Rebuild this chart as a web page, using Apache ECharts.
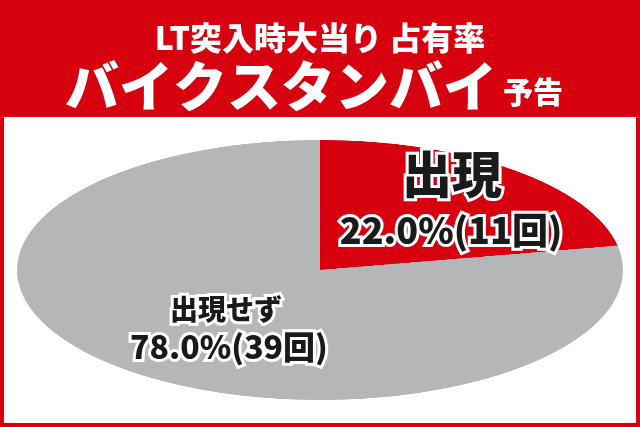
<!DOCTYPE html>
<html>
<head>
<meta charset="utf-8">
<title>LT突入時大当り占有率 バイクスタンバイ予告</title>
<script src="https://cdn.jsdelivr.net/npm/echarts@6.0.0/dist/echarts.min.js"></script>
<style>
    html, body {
        margin: 0;
        width: 640px;
        height: 427px;
        overflow: hidden;
        background: #fff;
    }
    /* 楕円に見せるため円グラフを縦に潰す */
    #pie {
        position: absolute;
        left: 17px;
        top: -33px;
        width: 606px;
        height: 606px;
        transform: scaleY(0.429);
        transform-origin: 50% 50%;
    }
    #main {
        position: absolute;
        left: 0;
        top: 0;
        width: 640px;
        height: 427px;
    }
</style>
</head>
<body>
<div id="pie"></div>
<div id="main"></div>
<script>
    // データ
    var categories = ['出現', '出現せず'];
    var counts = [11, 39];
    var titleLines = ['LT突入時大当り 占有率', 'バイクスタンバイ', '予告'];

    var total = counts.reduce(function (a, b) { return a + b; }, 0);
    function pctText(v) {
        return (v / total * 100).toFixed(1) + '%(' + v + '回)';
    }

    var RED = '#d7000f';
    var GRAY = '#b5b6b8';
    var FONT = '"Noto Sans CJK JP", "Noto Sans", sans-serif';

    // 円グラフ
    var pieChart = echarts.init(document.getElementById('pie'));
    pieChart.setOption({
        animation: false,
        series: [{
            type: 'pie',
            center: ['50%', '50%'],
            radius: '100%',
            startAngle: 90,
            clockwise: true,
            silent: true,
            label: { show: false },
            labelLine: { show: false },
            itemStyle: { borderWidth: 0 },
            data: categories.map(function (c, i) {
                return {
                    name: c,
                    value: counts[i],
                    itemStyle: { color: i === 0 ? RED : GRAY }
                };
            })
        }]
    });

    // 見出しと文字
    var mainChart = echarts.init(document.getElementById('main'));

    function label(text, x, y, size) {
        return {
            type: 'text',
            x: x,
            y: y,
            silent: true,
            z: 10,
            style: {
                text: text,
                fill: '#1a1a1a',
                stroke: '#fff',
                lineWidth: 6,
                font: '900 ' + size + 'px ' + FONT,
                textAlign: 'center',
                textVerticalAlign: 'middle'
            }
        };
    }

    mainChart.setOption({
        animation: false,
        graphic: [
            {
                type: 'rect',
                shape: { x: 0, y: 0, width: 640, height: 117 },
                style: { fill: RED },
                silent: true
            },
            {
                type: 'rect',
                shape: { x: 2, y: 2, width: 636, height: 423 },
                style: { fill: null, stroke: RED, lineWidth: 4 },
                silent: true
            },
            {
                type: 'text',
                x: 320, y: 38,
                silent: true,
                style: {
                    text: titleLines[0],
                    fill: '#fff',
                    font: '900 32px ' + FONT,
                    textAlign: 'center',
                    textVerticalAlign: 'middle'
                }
            },
            {
                type: 'text',
                x: 281, y: 86,
                silent: true,
                style: {
                    text: titleLines[1],
                    fill: '#fff',
                    font: '900 54px ' + FONT,
                    textAlign: 'center',
                    textVerticalAlign: 'middle'
                }
            },
            {
                type: 'text',
                x: 503, y: 92,
                silent: true,
                style: {
                    text: titleLines[2],
                    fill: '#fff',
                    font: '900 30px ' + FONT,
                    textAlign: 'left',
                    textVerticalAlign: 'middle'
                }
            },
            label(categories[0], 452, 174, 50),
            label(pctText(counts[0]), 451, 230, 36),
            label(categories[1], 226, 309, 28),
            label(pctText(counts[1]), 229, 347, 32)
        ]
    });
</script>
</body>
</html>
